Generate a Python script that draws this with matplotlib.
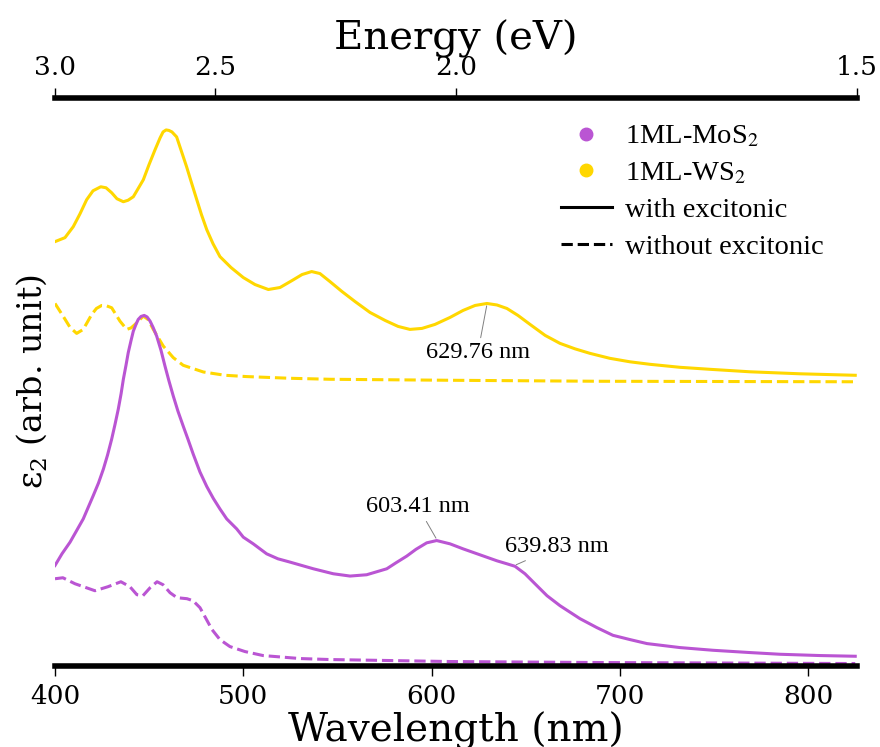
import numpy as np
import matplotlib
matplotlib.use('Agg')
import matplotlib.pyplot as plt
from matplotlib.lines import Line2D

plt.rcParams['font.family'] = 'DejaVu Serif'
plt.rcParams['mathtext.fontset'] = 'dejavuserif'

purple = '#BA55D3'
gold = '#FFD700'

# 1ML-WS2, with excitonic effects
ws2_exc_wl = [400, 405.3, 409.7, 413.3, 416.8, 420.2, 424.3, 427.1, 430.1, 432.9,
              436.3, 438.8, 441.6, 444.1, 446.9, 449.9, 453.1, 455.8, 457.4, 459,
              460.5, 462.1, 464.6, 466.9, 469.9, 472.5, 475.3, 477.8, 480.6, 483.9,
              487.6, 493.5, 500, 506.2, 513.3, 519.5, 525.9, 531.2, 536.3, 540.7,
              546, 552.4, 559.3, 567.3, 575.3, 582.2, 588.5, 594.9, 601.8, 609.8,
              616.7, 623.1, 629.4, 634.7, 640, 645.9, 652.3, 660.3, 668.2, 676.2,
              684.1, 694.7, 705.4, 716, 731.9, 747.8, 769.1, 795.6, 825]
ws2_exc = [4.24, 4.28, 4.39, 4.52, 4.66, 4.75, 4.79, 4.78, 4.73, 4.67,
           4.64, 4.655, 4.69, 4.77, 4.86, 5.01, 5.16, 5.28, 5.34, 5.36,
           5.355, 5.34, 5.29, 5.16, 4.99, 4.83, 4.66, 4.51, 4.36, 4.22,
           4.09, 3.98, 3.88, 3.81, 3.76, 3.78, 3.85, 3.91, 3.94, 3.92,
           3.84, 3.74, 3.64, 3.53, 3.45, 3.39, 3.36, 3.37, 3.41, 3.48,
           3.55, 3.60, 3.62, 3.605, 3.57, 3.50, 3.41, 3.30, 3.22, 3.165,
           3.12, 3.07, 3.035, 3.01, 2.98, 2.96, 2.935, 2.915, 2.90]

# 1ML-WS2, without excitonic effects
ws2_noexc_wl = [400, 404.4, 408, 411.5, 415, 419.5, 422, 424.8, 427.3, 430.1,
                434.5, 438.1, 440.4, 442.5, 446.9, 449.4, 452.2, 457.5, 462.8, 468.1,
                478.8, 490.3, 501.8, 524.8, 546, 609.8, 689.4, 825]
ws2_noexc = [3.62, 3.49, 3.38, 3.32, 3.36, 3.51, 3.57, 3.60, 3.597, 3.577,
             3.443, 3.36, 3.375, 3.41, 3.493, 3.46, 3.36, 3.193, 3.077, 3.00,
             2.933, 2.90, 2.887, 2.87, 2.86, 2.85, 2.84, 2.835]

# 1ML-MoS2, with excitonic effects
mos2_exc_wl = [400, 403.7, 408, 411.4, 415, 417.5, 420.3, 423.1, 425.7, 427.9,
               430.1, 431.9, 433.6, 435.1, 436.3, 437.7, 438.9, 440.4, 441.6, 443,
               444.2, 445.7, 447.4, 448.9, 450.5, 452.1, 454, 456.3, 458.4, 460.5,
               462.8, 465.3, 468.1, 470.6, 473.4, 477, 480.6, 484.1, 487.6, 491.2,
               496.5, 500, 505.3, 512.4, 518.4, 524.8, 537.2, 547.8, 556.7, 565.5,
               576.2, 581.1, 586.8, 591.7, 597.4, 602.7, 609.8, 616.7, 625.7, 634.7,
               640, 644.3, 649.6, 654.9, 661.3, 668.2, 678.8, 687.8, 696.3, 705.4,
               714.4, 731.9, 749.4, 769.1, 785, 806.3, 825]
mos2_exc = [0.993, 1.11, 1.227, 1.34, 1.46, 1.57, 1.693, 1.82, 1.96, 2.10,
            2.26, 2.41, 2.56, 2.715, 2.86, 3.00, 3.127, 3.25, 3.343, 3.41,
            3.46, 3.49, 3.50, 3.485, 3.443, 3.38, 3.293, 3.15, 2.993, 2.845,
            2.693, 2.54, 2.39, 2.26, 2.11, 1.93, 1.785, 1.665, 1.56, 1.46,
            1.36, 1.277, 1.21, 1.11, 1.06, 1.027, 0.96, 0.91, 0.887, 0.90,
            0.96, 1.02, 1.087, 1.155, 1.22, 1.243, 1.21, 1.16, 1.10, 1.04,
            1.01, 0.985, 0.91, 0.81, 0.69, 0.59, 0.46, 0.37, 0.293, 0.25,
            0.21, 0.17, 0.143, 0.12, 0.103, 0.09, 0.083]

# 1ML-MoS2, without excitonic effects
mos2_noexc_wl = [400, 404.2, 410.6, 421.2, 428.1, 435, 439.8, 443.5, 446.7, 450.5,
                 454.2, 457.4, 461.1, 464.8, 470.1, 473.3, 477, 480.2, 483.4, 487.6,
                 492.9, 500.9, 510.5, 530.1, 546, 609.8, 689.4, 825]
mos2_noexc = [0.86, 0.87, 0.81, 0.74, 0.78, 0.83, 0.78, 0.70, 0.69, 0.77,
              0.83, 0.80, 0.72, 0.67, 0.66, 0.64, 0.57, 0.46, 0.35, 0.25,
              0.18, 0.13, 0.09, 0.06, 0.05, 0.03, 0.02, 0.01]

energy_ticks = [3.0, 2.5, 2.0, 1.5]

wl_min, wl_max = 400, 826


def energy_to_wl(e):
    # top axis is linear in 1/E, 3.0 eV at the left edge, 1.5 eV at the right edge
    e = np.asarray(e, dtype=float)
    frac = (1.0 / e - 1.0 / 3.0) / (1.0 / 1.5 - 1.0 / 3.0)
    return wl_min + frac * (wl_max - wl_min)


fig = plt.figure(figsize=(8.8, 7.47), dpi=100)
ax = fig.add_axes([0.0625, 0.1084, 0.9115, 0.7604])

lw = 2.2
ax.plot(ws2_exc_wl, ws2_exc, color=gold, lw=lw)
ax.plot(ws2_noexc_wl, ws2_noexc, color=gold, lw=lw, ls='--')
ax.plot(mos2_exc_wl, mos2_exc, color=purple, lw=lw)
ax.plot(mos2_noexc_wl, mos2_noexc, color=purple, lw=lw, ls='--')

ax.set_xlim(wl_min, wl_max)
ax.set_ylim(-0.015, 5.68)
ax.set_yticks([])
ax.set_xticks([400, 500, 600, 700, 800])
for s in ['left', 'right', 'top']:
    ax.spines[s].set_visible(False)
ax.spines['bottom'].set_linewidth(4)
ax.tick_params(axis='x', direction='out', length=7, width=1, labelsize=19, pad=6)
ax.set_xlabel('Wavelength (nm)', fontsize=28, labelpad=2)
ax.set_ylabel('ε$_2$ (arb. unit)', fontsize=24, labelpad=4)

ax2 = ax.twiny()
ax2.set_xlim(wl_min, wl_max)
ax2.set_xticks(energy_to_wl(energy_ticks))
ax2.set_xticklabels(['%.1f' % e for e in energy_ticks])
for s in ['left', 'right', 'bottom']:
    ax2.spines[s].set_visible(False)
ax2.spines['top'].set_linewidth(4)
ax2.tick_params(axis='x', direction='out', length=7, width=1, labelsize=19, pad=6)
ax2.set_xlabel('Energy (eV)', fontsize=29, labelpad=4)

# peak labels
ann = dict(arrowstyle='-', color='gray', lw=0.7, shrinkA=1, shrinkB=1)
tfont = dict(family='Liberation Serif', fontsize=17.5, ha='center', va='center')
ax.annotate('629.76 nm', xy=(629.4, 3.61), xytext=(624.6, 3.13),
            arrowprops=ann, **tfont)
ax.annotate('603.41 nm', xy=(602.7, 1.255), xytext=(592.8, 1.58),
            arrowprops=ann, **tfont)
ax.annotate('639.83 nm', xy=(644.3, 0.995), xytext=(666.5, 1.18),
            arrowprops=ann, **tfont)

handles = [
    Line2D([], [], ls='none', marker='o', ms=9, color=purple),
    Line2D([], [], ls='none', marker='o', ms=9, color=gold),
    Line2D([], [], color='black', lw=lw),
    Line2D([], [], color='black', lw=lw, ls='--'),
]
labels = ['1ML-MoS$_2$', '1ML-WS$_2$', 'with excitonic', 'without excitonic']
leg = ax2.legend(handles, labels, loc='upper right', bbox_to_anchor=(0.99, 1.0),
                 frameon=False, prop={'family': 'Liberation Serif', 'size': 20.5},
                 handlelength=1.8, handletextpad=0.45, labelspacing=0.38)
for t in leg.get_texts():
    t.set_math_fontfamily('stix')

fig.savefig('out.png', dpi=100)
